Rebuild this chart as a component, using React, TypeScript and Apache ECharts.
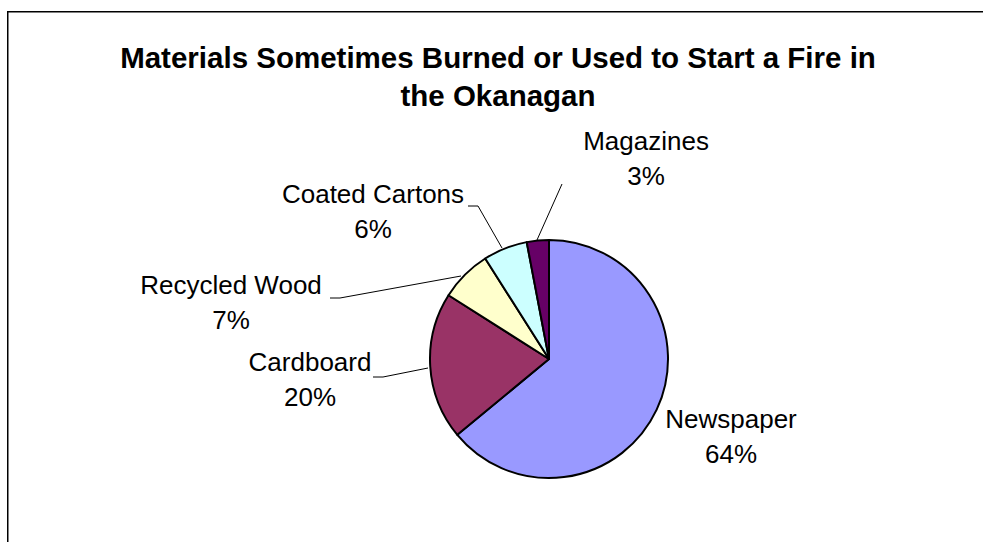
import React, { useEffect, useRef } from "react";
import * as echarts from "echarts";

const titleLines = ["Materials Sometimes Burned or Used to Start a Fire in", "the Okanagan"];
const categories = ["Newspaper", "Cardboard", "Recycled Wood", "Coated Cartons", "Magazines"];
const values = [64, 20, 7, 6, 3];
const colors = ["#9999FF", "#993366", "#FFFFCC", "#CCFFFF", "#660066"];

// label placement (centre of each label block) and leader lines
const labelPos: number[][] = [
  [731, 436],
  [310, 379],
  [231, 302],
  [373, 211],
  [646, 158],
];
const leaderLines: (number[][] | null)[] = [
  null,
  [[428, 368], [383, 377], [373, 377]],
  [[461, 276], [340, 298], [330, 298]],
  [[502, 248], [478, 206], [468, 206]],
  [[537, 240], [562, 184], [562, 184]],
];

const FONT = "'Liberation Sans', Arial, Helvetica, sans-serif";

export default function App() {
  const ref = useRef<HTMLDivElement>(null);
  useEffect(() => {
    if (!ref.current) return;
    const chart = echarts.init(ref.current, undefined, { renderer: "svg" });
    chart.setOption({
      animation: false,
      backgroundColor: "#ffffff",
      graphic: [
        {
          type: "rect",
          z: -10,
          shape: { x: 7.75, y: 11.75, width: 1200, height: 800 },
          style: { fill: "none", stroke: "#000", lineWidth: 1.5 },
          silent: true,
        },
        {
          type: "text",
          x: 498,
          y: 38,
          style: {
            text: titleLines.join("\n"),
            align: "center",
            verticalAlign: "top",
            fontFamily: FONT,
            fontSize: 29.5,
            fontWeight: "bold",
            lineHeight: 38,
            fill: "#000",
          },
        },
      ],
      series: [
        {
          type: "pie",
          center: [549, 359],
          radius: 119,
          startAngle: 90,
          clockwise: true,
          avoidLabelOverlap: false,
          itemStyle: { borderColor: "#000", borderWidth: 2 },
          label: {
            show: true,
            position: "outside",
            formatter: "{b}\n{d}%",
            fontFamily: FONT,
            fontSize: 26,
            lineHeight: 35,
            color: "#000",
            align: "center",
          },
          labelLine: { show: true, lineStyle: { color: "#000", width: 1 } },
          labelLayout: (p: any) => {
            const i = p.dataIndex;
            const out: any = {
              x: labelPos[i][0],
              y: labelPos[i][1],
              align: "center",
              verticalAlign: "middle",
            };
            if (leaderLines[i]) out.labelLinePoints = leaderLines[i];
            return out;
          },
          data: categories.map((name, i) => ({
            name,
            value: values[i],
            itemStyle: { color: colors[i] },
            labelLine: { show: leaderLines[i] !== null },
          })),
        },
      ],
    });
    return () => chart.dispose();
  }, []);
  return (
    <div
      ref={ref}
      style={{ position: "fixed", left: 0, top: 0, width: 983, height: 542 }}
    />
  );
}
